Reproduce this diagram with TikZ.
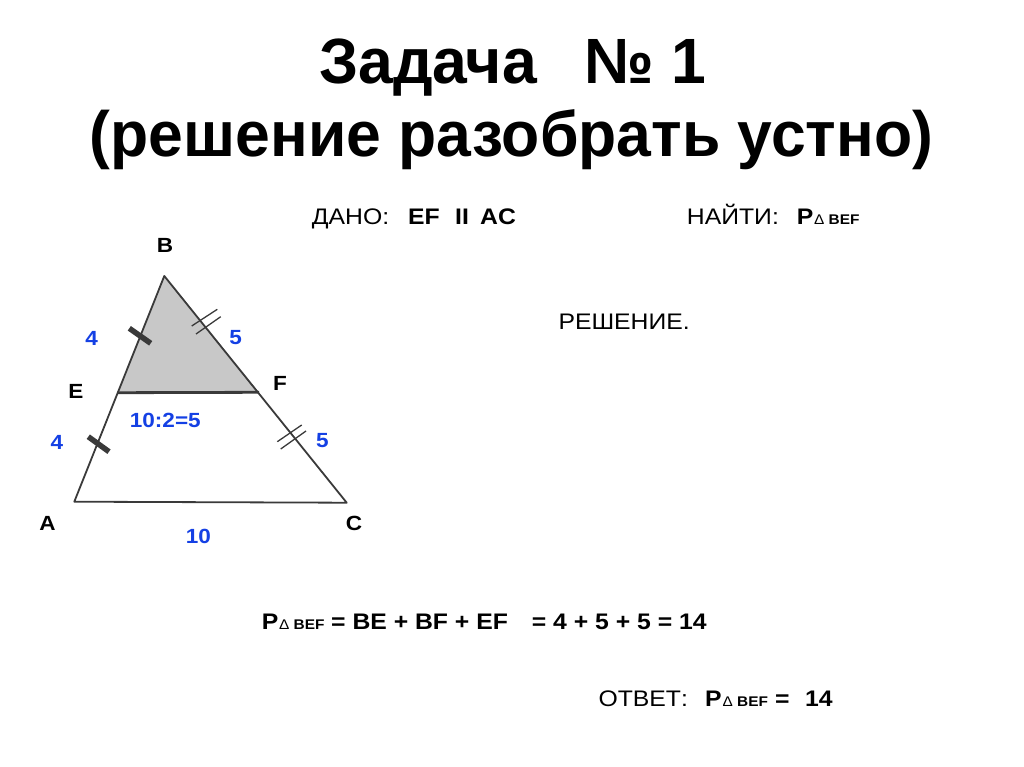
\documentclass[tikz,border=0pt]{standalone}
\usepackage{fontspec}
\setmainfont{Liberation Sans}[FakeStretch=1.1]
\newfontfamily\titlefont{Liberation Sans}[FakeStretch=0.976]
\definecolor{numblue}{RGB}{20,64,228}
\definecolor{edgegray}{RGB}{58,58,58}
\definecolor{trifill}{RGB}{200,200,200}
\tikzset{
  txt/.style={inner sep=0pt, anchor=base west, font=\fontsize{22.5}{27}\selectfont},
  btxt/.style={txt, font=\fontsize{22.5}{27}\selectfont\bfseries},
  subtxt/.style={inner sep=0pt, anchor=base west, font=\fontsize{14}{16}\selectfont\bfseries},
  deltatxt/.style={inner sep=0pt, anchor=base west, font=\fontsize{14}{16}\selectfont},
  ttl/.style={inner sep=0pt, font=\titlefont\fontsize{64}{70}\selectfont\bfseries},
  vlabel/.style={inner sep=0pt, font=\fontsize{20.5}{24}\selectfont\bfseries},
  num/.style={inner sep=0pt, text=numblue, font=\fontsize{20.5}{24}\selectfont\bfseries},
  side/.style={draw=edgegray, line width=1.8pt, line join=round},
  tick/.style={draw=edgegray, line width=5.5pt},
  dtick/.style={draw=edgegray, line width=1.3pt}
}
\begin{document}
\begin{tikzpicture}[x=1pt,y=-1pt]
\useasboundingbox (0,0) rectangle (1024,767);
% title
\node[ttl, anchor=base west] (t1a) at (319,84) {Задача};
\node[ttl, anchor=base east] (t1b) at (706,84) {№ 1};
\node[ttl, anchor=base] (t2) at (511.5,157) {(решение разобрать устно)};
% triangle
\coordinate (A) at (74.3,501.7);
\coordinate (B) at (164.3,276);
\coordinate (C) at (346.7,502.7);
\coordinate (E) at (117.5,392.7);
\coordinate (F) at (259,392.3);
\fill[trifill] (B) -- (E) -- (F) -- cycle;
\draw[side] (A) -- (B) -- (C) -- cycle;
\draw[draw=edgegray, line width=2.8pt] (E) -- (F);
% tick marks
\coordinate (k1a) at (129.3,328.3); \coordinate (k1b) at (150.7,343.3);
\coordinate (k2a) at (88.3,436.7); \coordinate (k2b) at (109,451.7);
\draw[tick] (k1a) -- (k1b);
\draw[tick] (k2a) -- (k2b);
\coordinate (d1a) at (191.7,326); \coordinate (d1b) at (217.3,309.3);
\coordinate (d2a) at (196,334); \coordinate (d2b) at (220.7,316.7);
\coordinate (d3a) at (277.3,441.7); \coordinate (d3b) at (301.7,425);
\coordinate (d4a) at (280.7,449); \coordinate (d4b) at (306,431);
\draw[dtick] (d1a) -- (d1b);
\draw[dtick] (d2a) -- (d2b);
\draw[dtick] (d3a) -- (d3b);
\draw[dtick] (d4a) -- (d4b);
% vertex labels
\node[vlabel] (lB) at (165,245.5) {B};
\node[vlabel] (lE) at (75.8,391) {E};
\node[vlabel] (lF) at (280,383.3) {F};
\node[vlabel] (lA) at (47.5,523) {A};
\node[vlabel] (lC) at (354,523) {C};
% blue numbers
\node[num] (n1) at (91.7,338) {4};
\node[num] (n2) at (235.7,337.7) {5};
\node[num] (n3) at (165.3,420) {10:2=5};
\node[num] (n4) at (57,442) {4};
\node[num] (n5) at (322.5,440.7) {5};
\node[num] (n6) at (198.3,536) {10};
% given
\node[txt] (g1) at (311.7,224.3) {ДАНО:};
\node[btxt] (g2) at (408,224.3) {EF};
\node[btxt] (g3) at (455,224.3) {II};
\node[btxt] (g4) at (480,224.3) {AC};
% find
\node[txt] (f1) at (686.7,224.3) {НАЙТИ:};
\node[btxt] (f2) at (796.7,224.3) {P};
\node[deltatxt] (f3) at (814,224.3) {Δ};
\node[subtxt] (f4) at (828.5,224.3) {BEF};
% solution
\node[txt] (s1) at (558.3,329.3) {РЕШЕНИЕ.};
% formula
\node[btxt] (p1) at (261.7,629.3) {P};
\node[deltatxt] (p2) at (279,629.3) {Δ};
\node[subtxt] (p3) at (293.5,629.3) {BEF};
\node[btxt] (p4) at (331,629.3) {= BE + BF + EF};
\node[btxt] (p5) at (531.7,629.3) {= 4 + 5 + 5 = 14};
% answer
\node[txt] (o1) at (598.3,706) {ОТВЕТ:};
\node[btxt] (o2) at (705,706) {P};
\node[deltatxt] (o3) at (722.5,706) {Δ};
\node[subtxt] (o4) at (737,706) {BEF};
\node[btxt] (o5) at (775,706) {=};
\node[btxt] (o6) at (805,706) {14};
\end{tikzpicture}
\end{document}
